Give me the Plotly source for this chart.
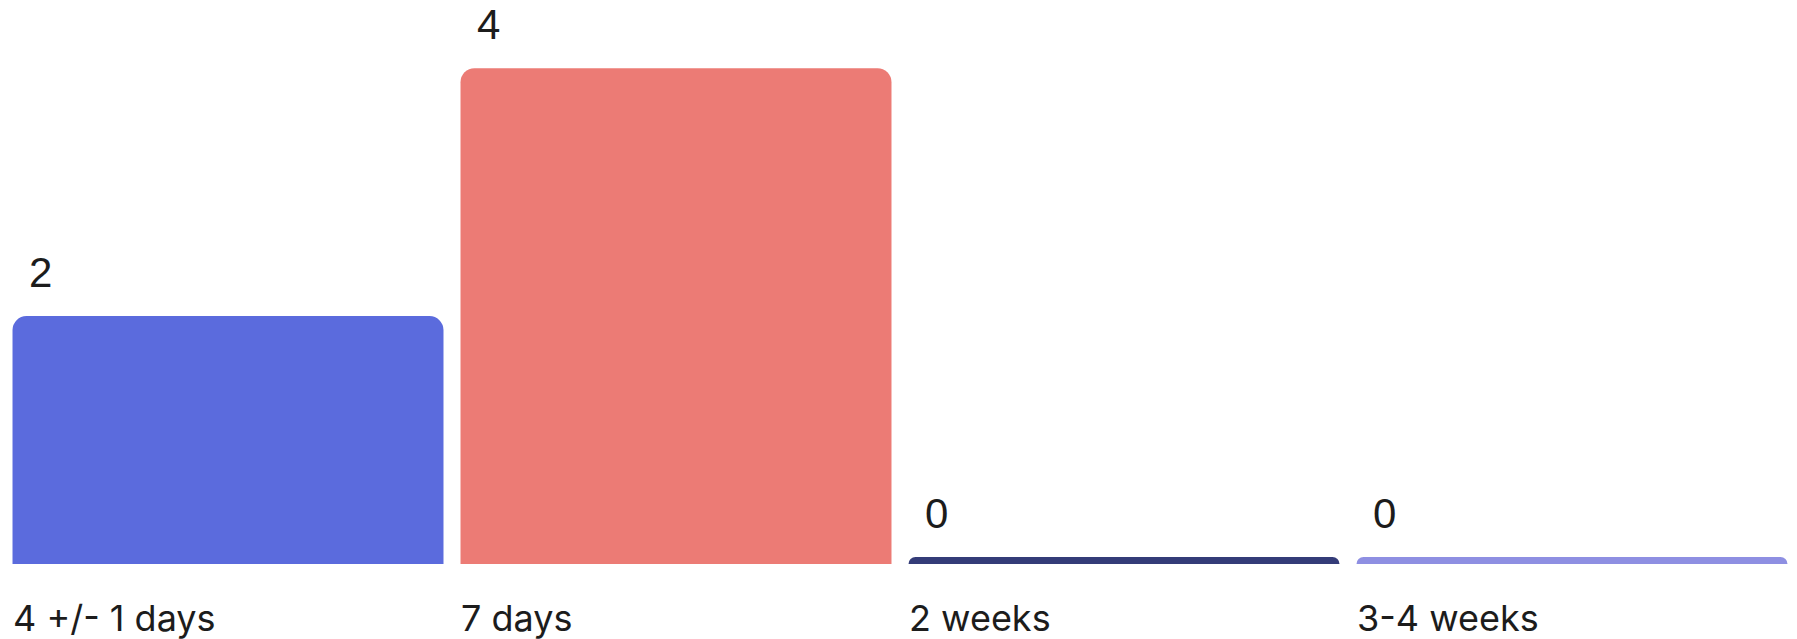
import plotly.graph_objects as go

# ---- data ----
categories = ["4 +/- 1 days", "7 days", "2 weeks", "3-4 weeks"]
values = [2, 4, 0, 0]
colors = ["#5B6BDD", "#EC7B75", "#343C78", "#8E8FE2"]

# ---- layout constants ----
W, H = 1797, 639
ML, MR, MT, MB = 4, 1, 0, 75
BARGAP = 0.038
YMAX = 4.55
STUB_PX = 7  # minimum drawn height for zero-valued bars

plot_w = W - ML - MR
plot_h = H - MT - MB
slot = plot_w / len(categories)
bar_w = slot * (1 - BARGAP)
unit_px = plot_h / YMAX
stub = STUB_PX / unit_px

display = [max(v, stub) for v in values]

fig = go.Figure()
fig.add_trace(go.Bar(
    x=categories,
    y=display,
    customdata=values,
    marker=dict(color=colors, cornerradius=14, line=dict(width=0)),
    hovertemplate="%{x}: %{customdata}<extra></extra>",
))

annotations = []
for cat, v, d in zip(categories, values, display):
    annotations.append(dict(
        x=cat, y=d, xref="x", yref="y",
        text=str(v), showarrow=False,
        xanchor="left", yanchor="bottom",
        xshift=-bar_w / 2 + 14, yshift=18,
        font=dict(family="Liberation Sans, Arial, sans-serif", size=42, color="#1c1c1c"),
    ))
    annotations.append(dict(
        x=cat, y=0, xref="x", yref="paper",
        text=cat, showarrow=False,
        xanchor="left", yanchor="top",
        xshift=-bar_w / 2 - 2, yshift=-30,
        font=dict(family="Inter, Roboto, sans-serif", size=36, color="#1c1c1c"),
    ))

fig.update_layout(
    width=W, height=H,
    margin=dict(l=ML, r=MR, t=MT, b=MB),
    paper_bgcolor="white", plot_bgcolor="white",
    bargap=BARGAP,
    showlegend=False,
    xaxis=dict(showgrid=False, zeroline=False, showticklabels=False, showline=False, ticks=""),
    yaxis=dict(range=[0, YMAX], visible=False, showgrid=False, zeroline=False),
    annotations=annotations,
)

fig.write_html("out.html", config={"displayModeBar": False},
               post_script="document.body.style.margin='0';")
